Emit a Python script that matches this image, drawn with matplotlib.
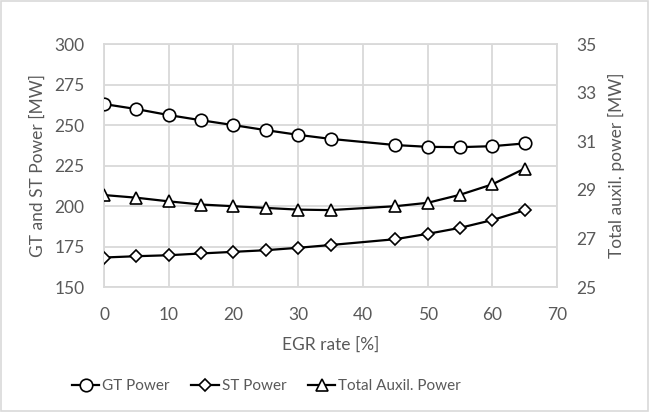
import matplotlib.pyplot as plt
from matplotlib.lines import Line2D
from matplotlib.patches import Rectangle

# EGR rate [%]
egr = [0, 5, 10, 15, 20, 25, 30, 35, 45, 50, 55, 60, 65]
# left axis [MW]
gt_power = [263.0, 259.9, 256.2, 253.0, 250.0, 246.9, 244.0, 241.5, 237.7, 236.6, 236.4, 237.0, 238.7]
st_power = [168.3, 169.1, 169.7, 170.8, 171.8, 172.8, 174.3, 176.0, 179.6, 182.9, 186.6, 191.4, 197.5]
# right axis [MW]
aux_power = [28.79, 28.68, 28.53, 28.40, 28.33, 28.26, 28.19, 28.17, 28.33, 28.47, 28.80, 29.23, 29.88]

left_ticks = [150, 175, 200, 225, 250, 275, 300]
right_ticks = [25, 27, 29, 31, 33, 35]
x_ticks = [0, 10, 20, 30, 40, 50, 60, 70]

plt.rcParams['font.family'] = ['Lato', 'DejaVu Sans']
txt = '#595959'
grid = '#d9d9d9'

fig = plt.figure(figsize=(6.5, 4.12), dpi=100)
ax = fig.add_axes([0.16, 0.303, 0.697, 0.59])

mk = dict(color='black', linewidth=1.6, markerfacecolor='white', markeredgecolor='black', markeredgewidth=1.2)
ax.plot(egr, gt_power, marker='o', markersize=9, zorder=3, **mk)
ax.plot(egr, st_power, marker='D', markersize=6, zorder=3, **mk)

ax.set_xlim(0, 70)
ax.set_ylim(150, 300)
ax.set_xticks(x_ticks)
ax.set_yticks(left_ticks)
ax.grid(True, color=grid, linewidth=1.3)
ax.set_axisbelow(True)
for s in ax.spines.values():
    s.set_color(grid)
    s.set_linewidth(1.3)
ax.tick_params(length=0, labelsize=12.5, colors=txt)
ax.tick_params(axis='x', pad=14)
ax.tick_params(axis='y', pad=14)
ax.set_xlabel('EGR rate [%]', fontsize=12.5, color=txt, labelpad=10)
ax.set_ylabel('GT and ST Power [MW]', fontsize=12.5, color=txt, labelpad=6)

ax2 = ax.twinx()
ax2.plot(egr, aux_power, marker='^', markersize=9, zorder=3, **mk)
ax2.set_ylim(25, 35)
ax2.set_yticks(right_ticks)
for s in ax2.spines.values():
    s.set_visible(False)
ax2.tick_params(length=0, labelsize=12.5, colors=txt, pad=14)
ax2.set_ylabel('Total auxil. power [MW]', fontsize=12.5, color=txt, labelpad=8)

handles = [
    Line2D([], [], marker='o', markersize=9, **mk),
    Line2D([], [], marker='D', markersize=6, **mk),
    Line2D([], [], marker='^', markersize=9, **mk),
]
fig.legend(handles, ['GT Power', 'ST Power', 'Total Auxil. Power'], loc='center',
           bbox_to_anchor=(0.41, 0.063), ncol=3, frameon=False, fontsize=11,
           labelcolor=txt, handlelength=1.8, handletextpad=0.2, columnspacing=1.4)

fig.patches.append(Rectangle((0.002, 0.003), 0.995, 0.994, transform=fig.transFigure,
                             fill=False, edgecolor=grid, linewidth=1.2))

fig.savefig('out.png', dpi=100)
